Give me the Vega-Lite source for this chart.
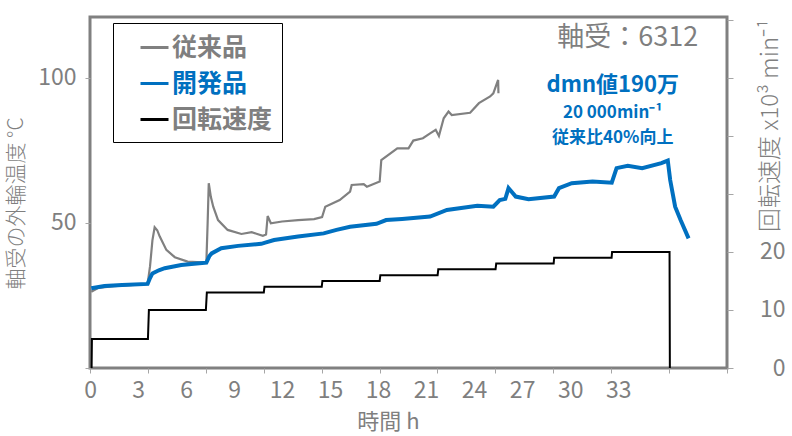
{
  "$schema": "https://vega.github.io/schema/vega-lite/v6.json",
  "width": 637,
  "height": 351,
  "autosize": {"type": "none"},
  "padding": {"left": 90, "top": 17, "right": 65, "bottom": 68},
  "background": "white",
  "config": {
    "font": "Noto Sans CJK JP",
    "view": {"stroke": "#808080", "strokeWidth": 3},
    "axis": {"grid": false}
  },
  "layer": [
    {
      "layer": [
        {
          "data": {"values": [
            {"series": "従来品", "h": 0.08, "T": 26.3}, {"series": "従来品", "h": 0.5, "T": 27.6}, {"series": "従来品", "h": 1.5, "T": 28.2},
            {"series": "従来品", "h": 3.0, "T": 28.7}, {"series": "従来品", "h": 3.6, "T": 29.0}, {"series": "従来品", "h": 3.75, "T": 35.0},
            {"series": "従来品", "h": 3.9, "T": 44.0}, {"series": "従来品", "h": 4.04, "T": 48.5}, {"series": "従来品", "h": 4.2, "T": 47.5},
            {"series": "従来品", "h": 4.36, "T": 45.3}, {"series": "従来品", "h": 4.77, "T": 40.7}, {"series": "従来品", "h": 5.3, "T": 38.2},
            {"series": "従来品", "h": 6.1, "T": 36.7}, {"series": "従来品", "h": 7.27, "T": 36.3}, {"series": "従来品", "h": 7.35, "T": 50.0},
            {"series": "従来品", "h": 7.42, "T": 63.7}, {"series": "従来品", "h": 7.55, "T": 59.0}, {"series": "従来品", "h": 7.7, "T": 55.6},
            {"series": "従来品", "h": 8.0, "T": 51.0}, {"series": "従来品", "h": 8.6, "T": 47.6}, {"series": "従来品", "h": 9.46, "T": 46.2},
            {"series": "従来品", "h": 10.1, "T": 46.8}, {"series": "従来品", "h": 10.4, "T": 46.3}, {"series": "従来品", "h": 10.8, "T": 45.6},
            {"series": "従来品", "h": 11.0, "T": 46.0}, {"series": "従来品", "h": 11.1, "T": 52.4}, {"series": "従来品", "h": 11.3, "T": 49.9},
            {"series": "従来品", "h": 12.0, "T": 50.5}, {"series": "従来品", "h": 13.0, "T": 51.0}, {"series": "従来品", "h": 14.0, "T": 51.3},
            {"series": "従来品", "h": 14.5, "T": 52.0}, {"series": "従来品", "h": 14.7, "T": 55.6}, {"series": "従来品", "h": 15.6, "T": 57.9},
            {"series": "従来品", "h": 16.25, "T": 60.8}, {"series": "従来品", "h": 16.35, "T": 63.1}, {"series": "従来品", "h": 17.1, "T": 63.4},
            {"series": "従来品", "h": 17.3, "T": 62.5}, {"series": "従来品", "h": 18.1, "T": 64.3}, {"series": "従来品", "h": 18.2, "T": 71.7},
            {"series": "従来品", "h": 19.2, "T": 75.7}, {"series": "従来品", "h": 19.9, "T": 75.7}, {"series": "従来品", "h": 20.2, "T": 78.4},
            {"series": "従来品", "h": 20.8, "T": 79.2}, {"series": "従来品", "h": 21.25, "T": 80.9}, {"series": "従来品", "h": 21.6, "T": 82.1},
            {"series": "従来品", "h": 21.8, "T": 80.0}, {"series": "従来品", "h": 22.1, "T": 86.1}, {"series": "従来品", "h": 22.4, "T": 88.4},
            {"series": "従来品", "h": 22.6, "T": 87.2}, {"series": "従来品", "h": 23.75, "T": 88.0}, {"series": "従来品", "h": 24.3, "T": 91.3},
            {"series": "従来品", "h": 25.0, "T": 93.6}, {"series": "従来品", "h": 25.2, "T": 94.7}, {"series": "従来品", "h": 25.5, "T": 99.3},
            {"series": "従来品", "h": 25.52, "T": 94.7}
          ]},
          "mark": {"type": "line", "strokeWidth": 2.2},
          "encoding": {
            "x": {"field": "h", "type": "quantitative", "scale": {"domain": [0, 39.8], "nice": false, "zero": false},
              "axis": {"orient": "bottom", "values": [0, 3, 6, 9, 12, 15, 18, 21, 24, 27, 30, 33], "ticks": false, "domain": false,
                "labelFontSize": 23, "labelColor": "#7f7f7f", "labelPadding": 11, "labelFlush": false,
                "title": "時間 h", "titleFontSize": 22, "titleColor": "#7f7f7f", "titleFontWeight": "normal", "titleX": 298, "titleY": 53,
                "titleAlign": "center", "titleBaseline": "middle"}},
            "y": {"field": "T", "type": "quantitative", "scale": {"domain": [0, 121], "nice": false},
              "axis": {"orient": "left", "values": [0, 50, 100], "labelExpr": "datum.value == 0 ? '' : datum.label", "tickSize": 5,
                "tickColor": "#a6a6a6", "domain": false, "labelFontSize": 23, "labelColor": "#7f7f7f", "labelPadding": 9,
                "title": "軸受の外輪温度 °C", "titleFontSize": 21, "titleColor": "#7f7f7f", "titleFontWeight": 300,
                "titleX": -74, "titleY": 186, "titleAngle": 270, "titleAlign": "center", "titleBaseline": "middle"}},
            "color": {"field": "series", "type": "nominal",
              "scale": {"domain": ["従来品", "開発品", "回転速度"], "range": ["#808080", "#0070C0", "#000000"]},
              "legend": {"orient": "none", "legendX": 23, "legendY": 6, "title": null, "symbolType": "stroke", "symbolSize": 784,
                "symbolStrokeWidth": 3, "labelFontSize": 25, "labelFontWeight": "bold", "labelColor": "#7f7f7f",
                "strokeColor": "#000000", "fillColor": "white", "padding": 9, "symbolOffset": 17, "labelOffset": 2, "rowPadding": 7,
                "encode": {"labels": {"update": {"fill": {"signal": "datum.value === '開発品' ? '#0070C0' : '#7f7f7f'"}}}}}}
          }
        },
        {
          "data": {"values": [
            {"series": "開発品", "h": 0.08, "T": 27.5}, {"series": "開発品", "h": 0.9, "T": 28.3}, {"series": "開発品", "h": 2.0, "T": 28.6},
            {"series": "開発品", "h": 3.6, "T": 29.0}, {"series": "開発品", "h": 3.75, "T": 31.0}, {"series": "開発品", "h": 3.9, "T": 32.6},
            {"series": "開発品", "h": 4.3, "T": 33.7}, {"series": "開発品", "h": 4.67, "T": 34.4}, {"series": "開発品", "h": 5.7, "T": 35.5},
            {"series": "開発品", "h": 6.5, "T": 35.9}, {"series": "開発品", "h": 7.27, "T": 36.3}, {"series": "開発品", "h": 7.45, "T": 38.5},
            {"series": "開発品", "h": 7.6, "T": 39.5}, {"series": "開発品", "h": 8.2, "T": 41.3}, {"series": "開発品", "h": 9.25, "T": 42.1},
            {"series": "開発品", "h": 10.7, "T": 42.8}, {"series": "開発品", "h": 11.0, "T": 43.3}, {"series": "開発品", "h": 11.5, "T": 44.1},
            {"series": "開発品", "h": 13.0, "T": 45.3}, {"series": "開発品", "h": 14.6, "T": 46.4}, {"series": "開発品", "h": 15.4, "T": 47.6},
            {"series": "開発品", "h": 16.25, "T": 48.7}, {"series": "開発品", "h": 17.9, "T": 49.7}, {"series": "開発品", "h": 18.5, "T": 51.0},
            {"series": "開発品", "h": 19.5, "T": 51.4}, {"series": "開発品", "h": 21.25, "T": 52.2}, {"series": "開発品", "h": 22.3, "T": 54.5},
            {"series": "開発品", "h": 24.2, "T": 55.9}, {"series": "開発品", "h": 25.2, "T": 55.6}, {"series": "開発品", "h": 25.6, "T": 57.9},
            {"series": "開発品", "h": 25.95, "T": 58.3}, {"series": "開発品", "h": 26.15, "T": 62.0}, {"series": "開発品", "h": 26.6, "T": 59.1},
            {"series": "開発品", "h": 27.4, "T": 58.2}, {"series": "開発品", "h": 29.0, "T": 59.1}, {"series": "開発品", "h": 29.3, "T": 62.0},
            {"series": "開発品", "h": 30.1, "T": 63.7}, {"series": "開発品", "h": 31.4, "T": 64.3}, {"series": "開発品", "h": 32.6, "T": 63.9},
            {"series": "開発品", "h": 32.9, "T": 68.9}, {"series": "開発品", "h": 33.6, "T": 69.7}, {"series": "開発品", "h": 34.5, "T": 68.9},
            {"series": "開発品", "h": 35.7, "T": 70.6}, {"series": "開発品", "h": 36.1, "T": 71.5}, {"series": "開発品", "h": 36.25, "T": 64.8},
            {"series": "開発品", "h": 36.56, "T": 55.6}, {"series": "開発品", "h": 36.9, "T": 51.0}, {"series": "開発品", "h": 37.4, "T": 44.7}
          ]},
          "mark": {"type": "line", "strokeWidth": 4},
          "encoding": {
            "x": {"field": "h", "type": "quantitative", "scale": {"domain": [0, 39.8], "nice": false, "zero": false}},
            "y": {"field": "T", "type": "quantitative", "scale": {"domain": [0, 121], "nice": false}},
            "color": {"field": "series", "type": "nominal",
              "scale": {"domain": ["従来品", "開発品", "回転速度"], "range": ["#808080", "#0070C0", "#000000"]}}
          }
        },
        {
          "data": {"values": [{"label": "軸受：6312", "h": 38.0, "T": 113.8}]},
          "mark": {"type": "text", "align": "right", "baseline": "middle", "fontSize": 27, "color": "#7f7f7f"},
          "encoding": {
            "x": {"field": "h", "type": "quantitative", "scale": {"domain": [0, 39.8], "nice": false, "zero": false}},
            "y": {"field": "T", "type": "quantitative", "scale": {"domain": [0, 121], "nice": false}},
            "text": {"field": "label"}
          }
        },
        {
          "data": {"values": [{"label": "dmn値190万", "h": 32.66, "T": 97.6}]},
          "mark": {"type": "text", "align": "center", "baseline": "middle", "fontSize": 22, "fontWeight": "bold", "color": "#0070C0"},
          "encoding": {
            "x": {"field": "h", "type": "quantitative", "scale": {"domain": [0, 39.8], "nice": false, "zero": false}},
            "y": {"field": "T", "type": "quantitative", "scale": {"domain": [0, 121], "nice": false}},
            "text": {"field": "label"}
          }
        },
        {
          "data": {"values": [{"label": "20 000min⁻¹", "h": 32.66, "T": 88.0}, {"label": "従来比40%向上", "h": 32.66, "T": 79.4}]},
          "mark": {"type": "text", "align": "center", "baseline": "middle", "fontSize": 17, "fontWeight": "bold", "color": "#0070C0"},
          "encoding": {
            "x": {"field": "h", "type": "quantitative", "scale": {"domain": [0, 39.8], "nice": false, "zero": false}},
            "y": {"field": "T", "type": "quantitative", "scale": {"domain": [0, 121], "nice": false}},
            "text": {"field": "label"}
          }
        }
      ]
    },
    {
      "data": {"values": [
        {"series": "回転速度", "h": 0.1, "S": 0}, {"series": "回転速度", "h": 0.12, "S": 5}, {"series": "回転速度", "h": 3.62, "S": 5},
        {"series": "回転速度", "h": 3.68, "S": 10}, {"series": "回転速度", "h": 7.24, "S": 10}, {"series": "回転速度", "h": 7.3, "S": 13},
        {"series": "回転速度", "h": 10.86, "S": 13}, {"series": "回転速度", "h": 10.9, "S": 14}, {"series": "回転速度", "h": 14.48, "S": 14},
        {"series": "回転速度", "h": 14.52, "S": 15}, {"series": "回転速度", "h": 18.1, "S": 15}, {"series": "回転速度", "h": 18.14, "S": 16},
        {"series": "回転速度", "h": 21.72, "S": 16}, {"series": "回転速度", "h": 21.76, "S": 17}, {"series": "回転速度", "h": 25.34, "S": 17},
        {"series": "回転速度", "h": 25.38, "S": 18}, {"series": "回転速度", "h": 28.97, "S": 18}, {"series": "回転速度", "h": 29.0, "S": 19},
        {"series": "回転速度", "h": 32.59, "S": 19}, {"series": "回転速度", "h": 32.62, "S": 20}, {"series": "回転速度", "h": 36.21, "S": 20},
        {"series": "回転速度", "h": 36.23, "S": 0}
      ]},
      "mark": {"type": "line", "strokeWidth": 2},
      "encoding": {
        "x": {"field": "h", "type": "quantitative", "scale": {"domain": [0, 39.8], "nice": false, "zero": false},
          "axis": {"orient": "bottom", "values": [0, 3.618, 7.236, 10.855, 14.473, 18.091, 21.709, 25.327, 28.945, 32.564, 36.182, 39.8],
            "labels": false, "domain": false, "tickSize": 5, "tickColor": "#a6a6a6", "tickWidth": 1, "title": null}},
        "y": {"field": "S", "type": "quantitative", "scale": {"domain": [0, 60.5], "nice": false},
          "axis": {"orient": "right", "values": [0, 10, 20, 30, 40, 50, 60], "labelExpr": "datum.value > 20 ? '' : datum.label",
            "tickSize": 6, "tickColor": "#a6a6a6", "domain": false, "labelAlign": "right", "labelPadding": 52,
            "labelFontSize": 23, "labelColor": "#7f7f7f",
            "title": "回転速度 x10³ min⁻¹", "titleFontSize": 24, "titleColor": "#7f7f7f", "titleFontWeight": 300,
            "titleX": 43, "titleY": 108, "titleAngle": 270, "titleAlign": "center", "titleBaseline": "middle"}},
        "color": {"field": "series", "type": "nominal",
          "scale": {"domain": ["従来品", "開発品", "回転速度"], "range": ["#808080", "#0070C0", "#000000"]}}
      }
    }
  ],
  "resolve": {"scale": {"y": "independent"}, "axis": {"y": "independent", "x": "independent"}}
}
